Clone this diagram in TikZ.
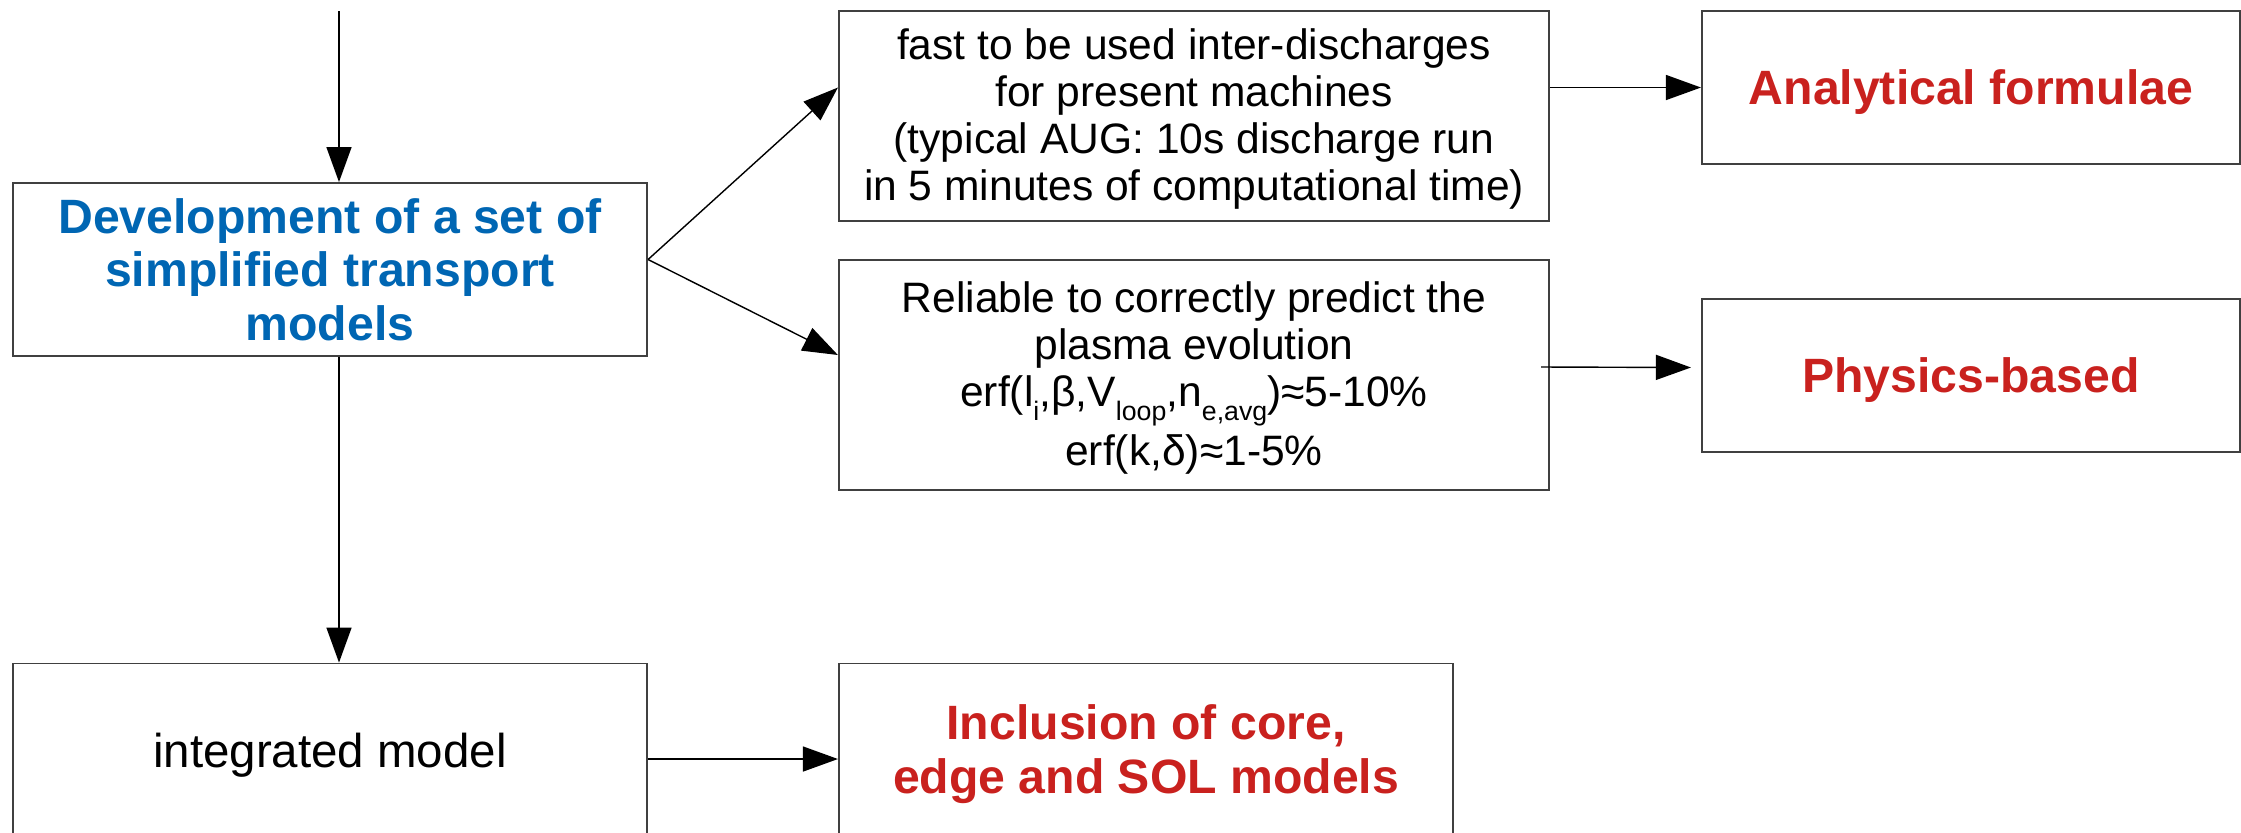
\documentclass[tikz,border=0pt]{standalone}
\usepackage{fontspec}
\setmainfont{Liberation Sans}
\usetikzlibrary{arrows.meta}
\definecolor{devblue}{RGB}{0,102,179}
\definecolor{resred}{RGB}{201,33,30}
\newcommand{\lowsub}[1]{\raisebox{-0.6ex}{\fontsize{7.6}{7.6}\selectfont #1}}
\newcommand{\topstrut}[1]{\rule{0pt}{#1}}
\tikzset{
  box/.style={draw=black!75, line width=0.5pt, rectangle, align=center, inner sep=0pt},
  oneline/.style={text height=0.44cm, text depth=0.1cm},
  plain/.style={font=\fontsize{12.1}{13.4}\selectfont},
  keyblue/.style={font=\fontsize{13.7}{15.2}\selectfont\bfseries, text=devblue},
  keyred/.style={font=\fontsize{13.7}{15.2}\selectfont\bfseries, text=resred},
  link/.style={-{Triangle[length=0.35cm,width=0.25cm]}, line width=0.4pt},
}
\begin{document}
\begin{tikzpicture}[x=0.01cm,y=-0.01cm]
    \useasboundingbox (0,0) rectangle (2241,832);
    % left column
    \node[box, keyblue, minimum width=6.34cm, minimum height=1.73cm] (dev) at (330,269.5)
        {Development of a set of\\simplified transport\\models};
    \node[box, oneline, font=\fontsize{13.5}{15}\selectfont, minimum width=6.34cm, minimum height=1.73cm] (integ) at (330,750)
        {integrated model};
    % middle column
    \node[box, plain, minimum width=7.10cm, minimum height=2.10cm] (fast) at (1194,116)
        {\topstrut{0.37cm}fast to be used inter-discharges\\for present machines\\(typical AUG: 10s discharge run\\in 5 minutes of computational time)};
    \node[box, plain, minimum width=7.10cm, minimum height=2.30cm] (rel) at (1194,375)
        {\topstrut{0.37cm}Reliable to correctly predict the\\plasma evolution\\erf(l\lowsub{i},β,V\lowsub{loop},n\lowsub{e,avg})≈5-10\%\\[0.06cm]erf(k,δ)≈1-5\%};
    \node[box, keyred, minimum width=6.14cm, minimum height=1.73cm] (incl) at (1146,750)
        {\topstrut{0.43cm}Inclusion of core,\\edge and SOL models};
    % right column
    \node[box, keyred, oneline, minimum width=5.38cm, minimum height=1.53cm] (anal) at (1971,87.5)
        {Analytical formulae};
    \node[box, keyred, oneline, minimum width=5.38cm, minimum height=1.53cm] (phys) at (1971,375.5)
        {Physics-based};
    % connectors
    \coordinate (feed) at (339,11);
    \draw[link] (feed) -- (feed |- dev.north);
    \draw[link] ([xshift=0.09cm]dev.south) -- ([xshift=0.09cm]integ.north);
    \draw[link] ([yshift=0.1cm]dev.east) -- (fast.west |- anal.west);
    \draw[link] ([yshift=0.1cm]dev.east) -- ([yshift=0.2cm]rel.west);
    \draw[link] (fast.east |- anal.west) -- (anal.west);
    \draw[link] ([xshift=-0.09cm,yshift=0.08cm]rel.east) -- ([xshift=-0.1cm,yshift=0.08cm]phys.west);
    \draw[link] ([yshift=-0.09cm]integ.east) -- ([yshift=-0.09cm]incl.west);
\end{tikzpicture}
\end{document}
